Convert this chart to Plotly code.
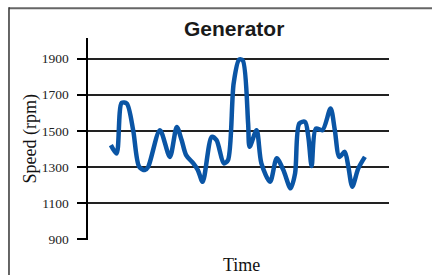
import plotly.graph_objects as go

# Data
time = [7.6, 9.5, 11.2, 12.9, 15.0, 17.0, 18.9, 20.0, 23.9, 27.2, 29.5, 31.1, 32.6,
        35.0, 36.5, 38.1, 41.1, 42.7, 45.1, 46.5, 48.4, 50.2, 51.4, 53.2, 53.7,
        56.0, 57.6, 60.5, 62.7, 64.9, 67.3, 68.8, 70.2, 72.1, 73.2, 74.3, 75.7,
        77.9, 80.6, 82.0, 83.5, 85.3, 86.5, 87.8, 89.8, 92.0]
speed = [1421, 1375, 1655, 1651, 1504, 1301, 1283, 1301, 1504, 1356, 1522, 1449, 1366,
         1320, 1283, 1218, 1467, 1449, 1320, 1338, 1764, 1894, 1891, 1541, 1412,
         1504, 1320, 1218, 1348, 1283, 1182, 1265, 1541, 1550, 1467, 1305, 1513,
         1504, 1624, 1504, 1356, 1384, 1301, 1191, 1292, 1356]
y_ticks = [900, 1100, 1300, 1500, 1700, 1900]
title_text = "Generator"
x_title = "Time"
y_title = "Speed (rpm)"

fig = go.Figure()
fig.add_trace(go.Scatter(
    x=time, y=speed, mode="lines",
    line=dict(color="#0a55a5", width=4.5, shape="spline", smoothing=0.8),
    hoverinfo="skip", showlegend=False,
))

fig.update_layout(
    width=432, height=275,
    margin=dict(l=88, r=43, t=38, b=35),
    paper_bgcolor="white", plot_bgcolor="white",
    showlegend=False,
    xaxis=dict(range=[0, 100], showgrid=False, zeroline=False, showline=False,
               showticklabels=False, ticks=""),
    yaxis=dict(range=[896, 2014], tickvals=y_ticks, ticktext=[str(v) for v in y_ticks],
               showgrid=True, gridcolor="#222222", gridwidth=2,
               zeroline=False, showline=True, linecolor="black", linewidth=2.5,
               ticks="outside", ticklen=9, tickwidth=2, tickcolor="black",
               ticklabelstandoff=5,
               tickfont=dict(family="Liberation Serif", size=13.5, color="#222")),
    annotations=[
        dict(text=title_text, xref="paper", yref="paper", x=0.485, y=1.0495,
             xanchor="center", yanchor="middle", showarrow=False,
             font=dict(family="Liberation Sans", size=21, color="#1a1a1a", weight="bold")),
        dict(text=x_title, xref="paper", yref="paper", x=0.5116, y=-0.124,
             xanchor="center", yanchor="middle", showarrow=False,
             font=dict(family="Liberation Serif", size=18, color="#111")),
        dict(text=y_title, xref="paper", yref="paper", x=-0.1927, y=0.5025,
             xanchor="center", yanchor="middle", showarrow=False, textangle=-90,
             font=dict(family="Liberation Serif", size=18, color="#111")),
    ],
    shapes=[
        dict(type="line", xref="paper", yref="paper", x0=-0.2625, x1=1.2,
             y0=1.147, y1=1.147, line=dict(color="#666666", width=2)),
        dict(type="line", xref="paper", yref="paper", x0=-0.2625, x1=-0.2625,
             y0=1.152, y1=-0.3, line=dict(color="#333333", width=1.5)),
    ],
)

fig.write_html("out.html",
               config={"displayModeBar": False, "staticPlot": True},
               post_script="document.body.style.margin='0';document.body.style.overflow='hidden';")
